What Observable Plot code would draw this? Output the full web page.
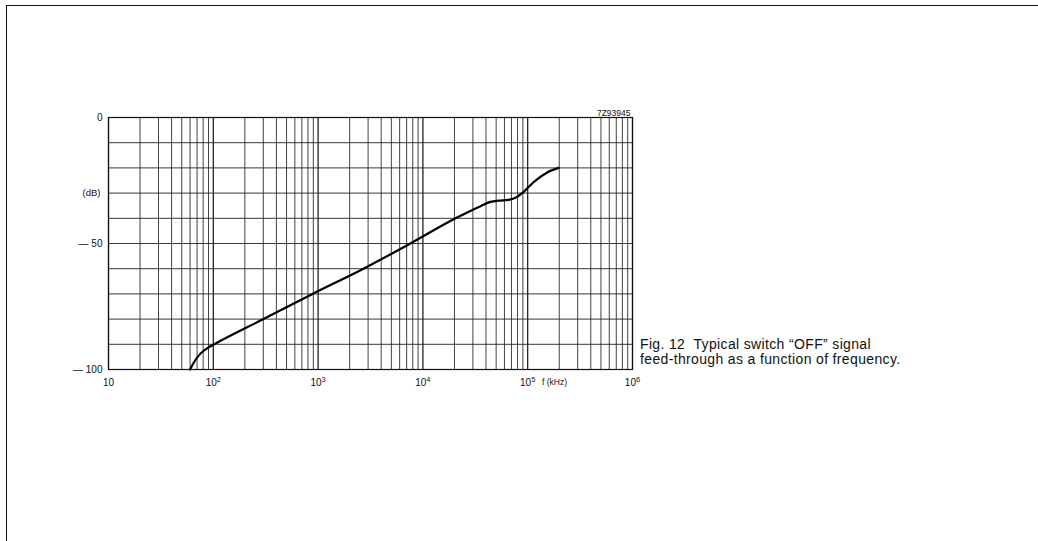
<!DOCTYPE html>
<html>
<head>
<meta charset="utf-8">
<script src="https://cdn.jsdelivr.net/npm/d3@7"></script>
<script src="https://cdn.jsdelivr.net/npm/@observablehq/plot@0.6"></script>
<style>
  html, body { margin: 0; padding: 0; background: #fff; }
  #wrap { position: relative; width: 1038px; height: 541px; overflow: hidden; }
  #frame { position: absolute; left: 6px; top: 5px; width: 1040px; height: 560px;
           border-top: 1.5px solid #111; border-left: 1.5px solid #111; pointer-events: none; }
  #caption { position: absolute; left: 640px; top: 337px; font-family: "Liberation Sans", Arial, sans-serif;
             font-size: 14px; line-height: 15px; letter-spacing: 0.35px; color: #111; }
  svg { position: absolute; left: 0; top: 0; }
</style>
</head>
<body>
<div id="wrap">
  <div id="chart"></div>
  <div id="frame"></div>
  <div id="caption">Fig. 12&nbsp; Typical switch “OFF” signal<br>feed-through as a function of frequency.</div>
</div>
<script>
// Frequency (kHz) and feed-through (dB)
const freq = [60, 65, 75, 88, 100, 301, 885, 2710, 7590, 20500, 35500, 44200, 52500, 65600, 79400, 91000, 113500, 155000, 197000];
const dB   = [-100, -97.3, -93.8, -91.5, -90.2, -80, -70, -60, -50, -40, -35.2, -33.5, -33.0, -32.7, -31.5, -29.6, -25.7, -21.7, -20.0];

const majorX = [10, 100, 1000, 10000, 100000, 1000000];
const xTickBase = "10";
const xTickExp = ["", "2", "3", "4", "5", "6"];
const yGrid = [0, -10, -20, -30, -40, -50, -60, -70, -80, -90, -100];
const yTicks = [0, -50, -100];
const yTickLabels = ["0", "— 50", "— 100"];
const minorMult = [2, 3, 4, 5, 6, 7, 8, 9];
const unitLabels = [{text: "(dB)", y: -30}];
const xUnit = [{text: "f (kHz)", x: 180000}];
const code = [{text: "7Z93945", x: 1000000}];

const minorX = [];
for (const d of majorX.slice(0, -1)) for (const m of minorMult) minorX.push(d * m);

const curve = freq.map((f, i) => ({f, v: dB[i]}));

const plot = Plot.plot({
  width: 1038,
  height: 541,
  marginLeft: 108,
  marginRight: 406,
  marginTop: 117,
  marginBottom: 172,
  style: {fontFamily: "'Liberation Sans', Arial, sans-serif", fontSize: "9px", color: "#111", background: "transparent"},
  x: {type: "log", domain: [10, 1000000]},
  y: {domain: [-100, 0]},
  marks: [
    Plot.ruleX(minorX, {stroke: "#222", strokeWidth: 1, strokeOpacity: 0.85}),
    Plot.ruleX(majorX, {stroke: "#111", strokeWidth: 1.2}),
    Plot.ruleY(yGrid, {stroke: "#222", strokeWidth: 1, strokeOpacity: 0.9}),
    Plot.frame({stroke: "#111", strokeWidth: 1.2}),
    Plot.axisX(majorX, {tickSize: 0, tickPadding: 9, tickFormat: (d) => String(majorX.indexOf(d)), fontSize: 10}),
    Plot.axisY(yTicks, {tickSize: 0, tickPadding: 6, tickFormat: (d) => yTickLabels[yTicks.indexOf(d)], fontSize: 10}),
    Plot.text(unitLabels, {y: "y", text: "text", frameAnchor: "left", textAnchor: "end", dx: -8, fontSize: 9.5}),
    Plot.text(xUnit, {x: "x", text: "text", frameAnchor: "bottom", dy: 15, fontSize: 8.5, letterSpacing: "0.5px"}),
    Plot.text(code, {x: "x", text: "text", frameAnchor: "top", textAnchor: "end", dy: -8, dx: -2, fontSize: 8.5, letterSpacing: "1.3px"}),
    Plot.line(curve, {x: "f", y: "v", stroke: "#000", strokeWidth: 2.2, curve: "monotone-x"})
  ]
});
document.getElementById("chart").appendChild(plot);

// Render x tick labels as 10 with superscript exponent
d3.select(plot).selectAll("g[aria-label='x-axis tick label'] text").each(function () {
  const t = d3.select(this);
  const i = +t.text();
  t.text(null);
  t.append("tspan").text(xTickBase);
  if (xTickExp[i]) t.append("tspan").attr("dy", "-4").attr("font-size", "7.5px").text(xTickExp[i]);
});
</script>
</body>
</html>
